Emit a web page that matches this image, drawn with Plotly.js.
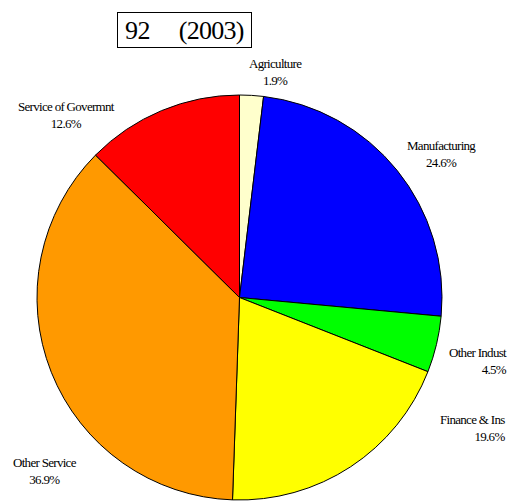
<!DOCTYPE html>
<html>
<head>
<meta charset="utf-8">
<script src="https://cdn.plot.ly/plotly-3.0.1.min.js"></script>
<style>
html,body{margin:0;padding:0;background:#fff;}
#chart{width:511px;height:501px;}
.annotation-text{letter-spacing:-0.7px;}
</style>
</head>
<body>
<div id="chart"></div>
<script>
var categories = ["Agriculture", "Manufacturing", "Other Indust", "Finance & Ins", "Other Service", "Service of Govermnt"];
var shares = [1.9, 24.6, 4.5, 19.6, 36.9, 12.6];
var colors = ["#FFFFCC", "#0000FF", "#00FF00", "#FFFF00", "#FF9900", "#FF0000"];
var titleText = "92\u00A0\u00A0\u00A0\u00A0\u00A0(2003)";

// label anchor positions (pixels) and alignment
var labelPos = [
  {x: 275, y: 72, align: "center"},
  {x: 441, y: 154, align: "center"},
  {x: 478, y: 361, align: "right"},
  {x: 472, y: 428, align: "right"},
  {x: 45, y: 471, align: "center"},
  {x: 66, y: 115, align: "center"}
];

var W = 511, H = 501;
var annotations = categories.map(function(c, i) {
  var p = labelPos[i];
  return {
    text: c + "<br>" + shares[i].toFixed(1) + "%",
    x: p.x / W, y: 1 - p.y / H, xref: "paper", yref: "paper",
    xanchor: "center", yanchor: "middle",
    showarrow: false, align: p.align,
    font: {family: "Liberation Serif, Times New Roman, serif", size: 13, color: "#000"}
  };
});
annotations.push({
  text: titleText,
  x: 184 / W, y: 1 - 29.5 / H, xref: "paper", yref: "paper",
  xanchor: "center", yanchor: "middle",
  showarrow: false, bordercolor: "#000", borderwidth: 1, borderpad: 2,
  width: 129, height: 30, align: "center",
  font: {family: "Liberation Serif, Times New Roman, serif", size: 26, color: "#000"}
});

var cx = 239.5, cy = 297.5, r = 202.5;
Plotly.newPlot("chart", [{
  type: "pie",
  labels: categories,
  values: shares,
  sort: false,
  direction: "clockwise",
  rotation: 0,
  marker: {colors: colors, line: {color: "#000", width: 1}},
  textinfo: "none",
  hoverinfo: "label+percent",
  domain: {x: [(cx - r) / W, (cx + r) / W], y: [1 - (cy + r) / H, 1 - (cy - r) / H]}
}], {
  width: W, height: H,
  margin: {l: 0, r: 0, t: 0, b: 0},
  showlegend: false,
  paper_bgcolor: "#fff",
  annotations: annotations
}, {displayModeBar: false, staticPlot: true});
</script>
</body>
</html>
